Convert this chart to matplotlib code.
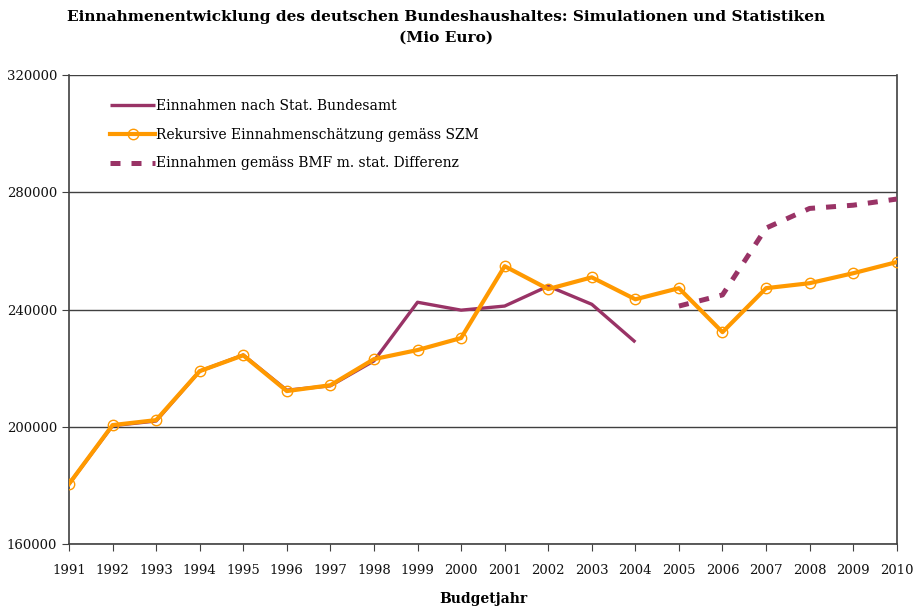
import numpy as np
import matplotlib
matplotlib.use("Agg")
import matplotlib.pyplot as plt

# Budgetjahre
years = list(range(1991, 2011))
# Einnahmen nach Stat. Bundesamt (1991-2004)
stat_years = list(range(1991, 2005))
stat_vals = [180500, 200400, 202000, 219000, 224500, 212500, 214000,
             222500, 242500, 239800, 241200, 248000, 241800, 228900]
# Rekursive Einnahmenschaetzung gemaess SZM (1991-2010)
szm_vals = [180500, 200600, 202300, 219000, 224400, 212200, 214200,
            223100, 226200, 230300, 254800, 247000, 251000, 243500,
            247300, 232300, 247300, 249000, 252400, 256200]
# Einnahmen gemaess BMF m. stat. Differenz (2005-2010)
bmf_years = list(range(2005, 2011))
bmf_vals = [241200, 245000, 267800, 274500, 275600, 277700]

purple = '#993366'
orange = '#FF9900'
grey = '#404040'

plt.rcParams['font.family'] = ['DejaVu Serif']

fig = plt.figure(figsize=(9.16, 6.10), dpi=100)
ax = fig.add_axes([0.0753, 0.108, 0.9037, 0.769])

ax.plot(stat_years, stat_vals, color=purple, lw=2.4, solid_capstyle='butt',
        label='Einnahmen nach Stat. Bundesamt', zorder=3)
ax.plot(years, szm_vals, color=orange, lw=3.0, marker='o', ms=7.5,
        mfc='none', mec=orange, mew=1.0,
        label='Rekursive Einnahmenschätzung gemäss SZM', zorder=4)
ax.plot(bmf_years, bmf_vals, color=purple, lw=3.6, ls=(0, (2, 2.2)),
        label='Einnahmen gemäss BMF m. stat. Differenz', zorder=3)

ax.set_xlim(1991, 2010)
ax.set_ylim(160000, 320000)
ax.set_xticks(years)
ax.set_yticks(np.arange(160000, 320001, 40000))
ax.yaxis.grid(True, color=grey, lw=1.0)
ax.set_axisbelow(True)
for s in ax.spines.values():
    s.set_color(grey)
    s.set_linewidth(1.2)
ax.spines['top'].set_visible(False)
ax.tick_params(axis='both', direction='out', length=5, color=grey,
               labelsize=9.5, labelcolor='#111111')
ax.tick_params(axis='x', pad=9)

ax.set_xlabel('Budgetjahr', fontsize=10, fontweight='bold', labelpad=11)

fig.suptitle('Einnahmenentwicklung des deutschen Bundeshaushaltes: Simulationen und Statistiken\n(Mio Euro)',
             x=0.487, y=0.983, fontsize=11.1, fontweight='bold', linespacing=1.55)

leg = ax.legend(loc='upper left', bbox_to_anchor=(0.035, 0.975), frameon=False,
                fontsize=10, handlelength=3.2, handletextpad=0.1,
                labelspacing=1.05)

fig.savefig('out.png', dpi=100)
